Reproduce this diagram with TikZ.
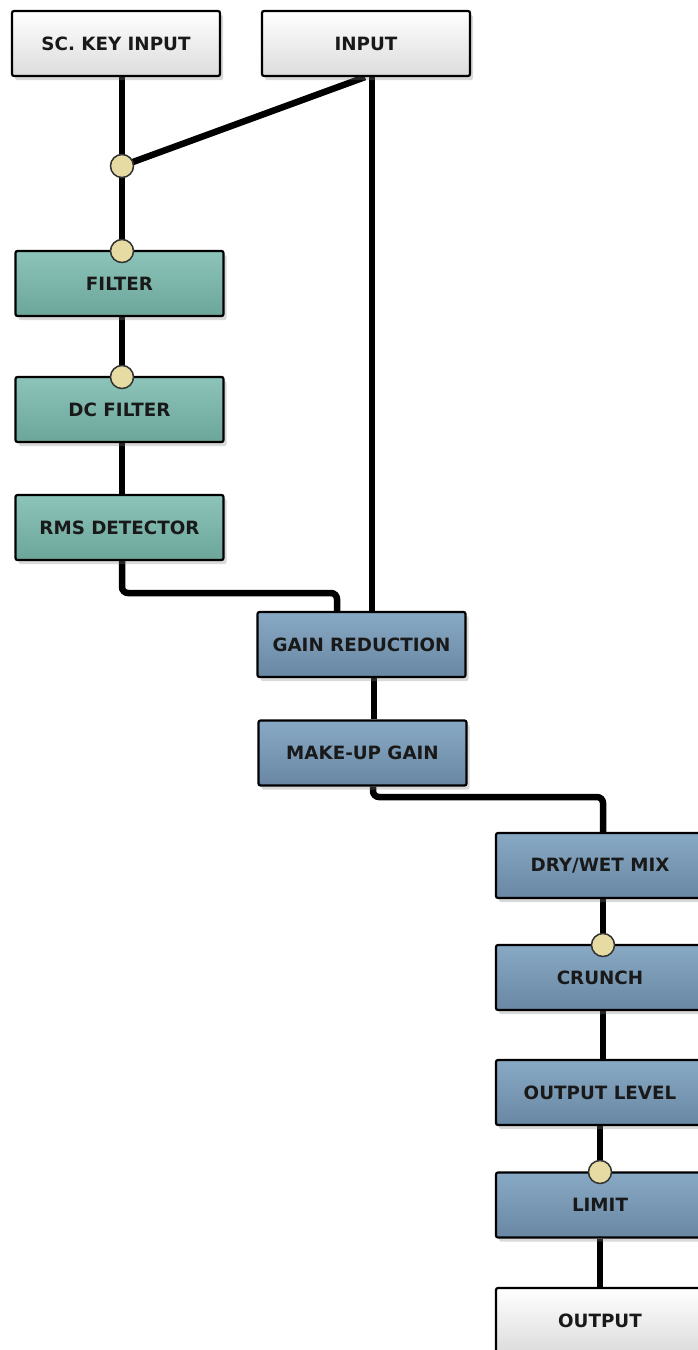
\documentclass[tikz,border=0pt]{standalone}
\usepackage{fontspec}
\setmainfont{DejaVu Sans}
\usetikzlibrary{shadows,backgrounds}
\definecolor{tealtop}{HTML}{8CC4BA}
\definecolor{tealbot}{HTML}{6CA599}
\definecolor{bluetop}{HTML}{88A9C4}
\definecolor{bluebot}{HTML}{6987A3}
\definecolor{whtop}{HTML}{FFFFFF}
\definecolor{whbot}{HTML}{DCDCDC}
\definecolor{dotfill}{HTML}{E6DCA3}
\tikzset{
  box/.style={draw=black, line width=2.2pt, rounded corners=2pt,
    minimum width=208pt, minimum height=65pt, inner sep=0pt,
    font=\fontsize{18.3}{22}\selectfont\bfseries, text=black!90,
    drop shadow={opacity=0.3, shadow xshift=3pt, shadow yshift=-4pt}},
  tealbox/.style={box, top color=tealtop, bottom color=tealbot},
  bluebox/.style={box, top color=bluetop, bottom color=bluebot},
  whitebox/.style={box, top color=whtop, bottom color=whbot},
  dot/.style={circle, draw=black!80, line width=1.5pt, fill=dotfill,
    minimum size=23pt, inner sep=0pt},
  wire/.style={line width=6.5pt, black, rounded corners=6pt}
}
\begin{document}
\begin{tikzpicture}[x=1pt, y=-1pt]
\useasboundingbox (0,0) rectangle (698,1350);
% boxes
\node[whitebox] (sc) at (116,43.5) {SC. KEY INPUT};
\node[whitebox] (inp) at (366,43.5) {INPUT};
\node[tealbox] (filt) at (119.5,283.5) {FILTER};
\node[tealbox] (dcf) at (119.5,409.5) {DC FILTER};
\node[tealbox] (rms) at (119.5,527.5) {RMS DETECTOR};
\node[bluebox] (gr) at (361.5,644.5) {GAIN REDUCTION};
\node[bluebox] (mug) at (362.5,753) {MAKE-UP GAIN};
\node[bluebox] (dw) at (600,865.5) {DRY/WET MIX};
\node[bluebox] (cr) at (600,977.5) {CRUNCH};
\node[bluebox] (ol) at (600,1092.5) {OUTPUT LEVEL};
\node[bluebox] (lim) at (600,1205) {LIMIT};
\node[whitebox] (out) at (600,1320.5) {OUTPUT};
% dots
\node[dot] (j1) at (122,166) {};
\node[dot] (c1) at (122,251) {};
\node[dot] (c2) at (122,377) {};
\node[dot] (c3) at (603,945) {};
\node[dot] (c4) at (600,1172) {};
% wires (behind)
\begin{scope}[on background layer]
\draw[wire] (j1 |- sc.south) -- (j1.center) -- (c1.center);
\draw[wire] ([xshift=-1pt]inp.south) -- (j1.center);
\draw[wire] ([xshift=6pt]inp.south) -- ([xshift=6pt]inp.south |- gr.north);
\draw[wire] (c2 |- filt.south) -- (c2.center);
\draw[wire] (c2 |- dcf.south) -- (c2 |- rms.north);
\draw[wire] (c2 |- rms.south) -- (122,593) -- (337,593) -- (337 ,612);
\draw[wire] ([xshift=12.5pt]gr.south) -- ([xshift=12.5pt]gr.south |- mug.north);
\draw[wire] ([xshift=10.5pt]mug.south) -- (373,797) -- (603,797) -- (dw.north -| c3);
\draw[wire] (c3 |- dw.south) -- (c3.center);
\draw[wire] (c3 |- cr.south) -- (c3 |- ol.north);
\draw[wire] (c4 |- ol.south) -- (c4.center);
\draw[wire] (c4 |- lim.south) -- (c4 |- out.north);
\end{scope}
\end{tikzpicture}
\end{document}
